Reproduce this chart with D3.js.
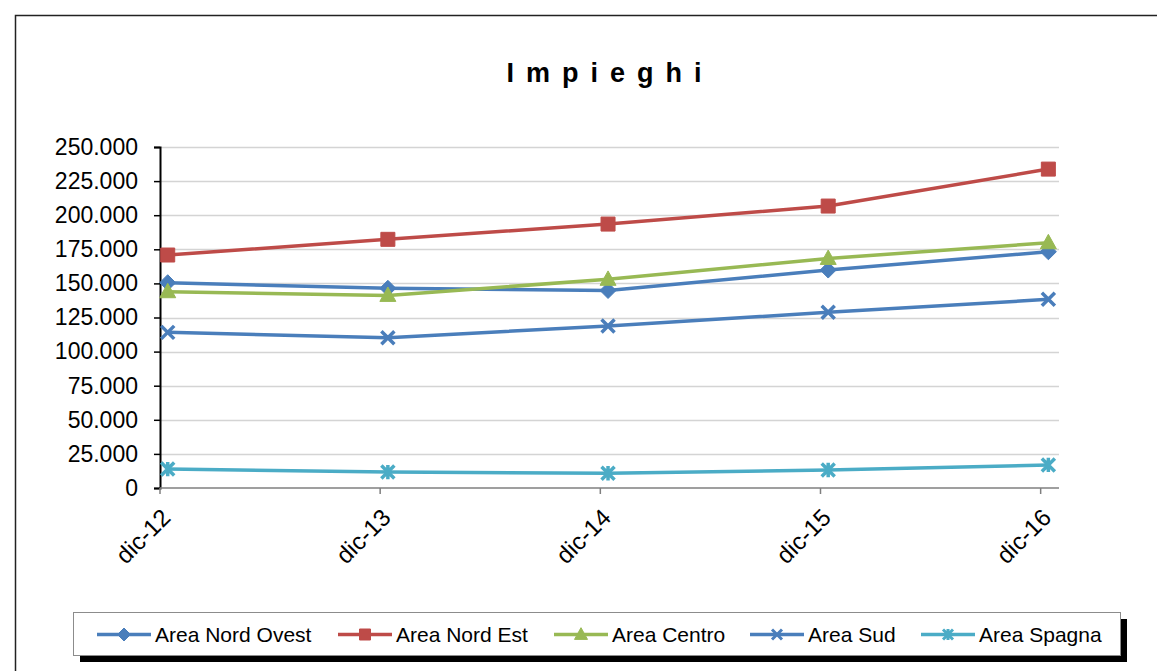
<!DOCTYPE html>
<html>
<head>
<meta charset="utf-8">
<script src="https://cdn.jsdelivr.net/npm/d3@7"></script>
<style>
  html, body { margin: 0; padding: 0; background: #fff; }
  svg { display: block; font-family: Arial, "Liberation Sans", sans-serif; }
</style>
</head>
<body>
<svg id="chart" width="1157" height="671"></svg>
<script>
// Period labels and the month each value refers to
const categories = ["dic-12", "dic-13", "dic-14", "dic-15", "dic-16"];
const periods = ["2012-12", "2013-12", "2014-12", "2015-12", "2016-12"];

// Impieghi by area
const nordOvest = [150500, 146400, 144800, 159800, 173200];
const nordEst   = [170800, 182300, 193500, 206700, 233800];
const centro    = [143900, 141200, 153000, 168300, 179800];
const sud       = [114100, 110200, 118700, 128800, 138300];
const spagna    = [13900, 11700, 10800, 13200, 16900];

const seriesNames = ["Area Nord Ovest", "Area Nord Est", "Area Centro", "Area Sud", "Area Spagna"];
const yTicks = [0, 25000, 50000, 75000, 100000, 125000, 150000, 175000, 200000, 225000, 250000];

const colors = ["#4A7EBB", "#BE4B48", "#98B954", "#4A7EBB", "#4BACC6"];

// Marker shapes drawn as custom d3 symbols (size = half width)
const mkDiamond = { draw(c, r) { c.moveTo(0, -r); c.lineTo(r, 0); c.lineTo(0, r); c.lineTo(-r, 0); c.closePath(); } };
const mkSquare  = { draw(c, r) { c.rect(-r, -r, 2 * r, 2 * r); } };
const mkTri     = { draw(c, r) { c.moveTo(0, -r * 1.05); c.lineTo(r, r * 0.75); c.lineTo(-r, r * 0.75); c.closePath(); } };
const mkX       = { draw(c, r) { c.moveTo(-r, -r); c.lineTo(r, r); c.moveTo(r, -r); c.lineTo(-r, r); } };
const mkStar    = { draw(c, r) { c.moveTo(-r, -r); c.lineTo(r, r); c.moveTo(r, -r); c.lineTo(-r, r); c.moveTo(0, -r * 1.1); c.lineTo(0, r * 1.1); } };
const markers = [
  { type: mkDiamond, filled: true, r: 8 },
  { type: mkSquare, filled: true, r: 7 },
  { type: mkTri, filled: true, r: 8 },
  { type: mkX, filled: false, r: 6.5 },
  { type: mkStar, filled: false, r: 6.5 }
];

const series = [nordOvest, nordEst, centro, sud, spagna].map((vals, i) => ({
  name: seriesNames[i], color: colors[i], marker: markers[i],
  points: vals.map((v, j) => ({ period: periods[j], value: v }))
}));

const svg = d3.select("#chart");
const W = 1157, H = 671;
const plot = { left: 160, right: 1059, top: 147, bottom: 488 };

// Outer chart frame
svg.append("path")
  .attr("d", `M15.5,${H} V15.5 H${W}`)
  .attr("fill", "none").attr("stroke", "#222").attr("stroke-width", 1.5);

// Title
svg.append("text")
  .attr("x", 610).attr("y", 82)
  .attr("text-anchor", "middle")
  .attr("font-size", 27).attr("font-weight", "bold")
  .attr("letter-spacing", "12px")
  .text("Impieghi");

// Monthly date axis; each value sits inside its month, ticks on year boundaries
const parseMonth = d3.timeParse("%Y-%m");
const months = d3.timeMonth.range(parseMonth(periods[0]), d3.timeMonth.offset(parseMonth(periods[periods.length - 1]), 1));
const x = d3.scaleBand().domain(months.map(m => +m)).range([plot.left, plot.right]).padding(0);
const xMid = p => x(+parseMonth(p)) + x.bandwidth() * 0.42;
const xTick = p => x(+parseMonth(p));

const y = d3.scaleLinear().domain([0, 250000]).range([plot.bottom, plot.top]);

const it = d3.formatLocale({ decimal: ",", thousands: ".", grouping: [3], currency: ["€", ""] });
const fmt = it.format(",.0f");

// Gridlines
svg.append("g").selectAll("line").data(yTicks.filter(t => t > 0)).join("line")
  .attr("x1", plot.left).attr("x2", plot.right)
  .attr("y1", d => Math.round(y(d)) + 0.5).attr("y2", d => Math.round(y(d)) + 0.5)
  .attr("stroke", "#d4d4d4").attr("stroke-width", 1.3);

// Y axis
const yAxis = svg.append("g")
  .attr("transform", `translate(${plot.left},0)`)
  .call(d3.axisLeft(y).tickValues(yTicks).tickFormat(fmt).tickSize(6).tickPadding(16));
yAxis.select(".domain").attr("stroke", "#000").attr("stroke-width", 2);
yAxis.selectAll(".tick line").attr("stroke", "#000").attr("stroke-width", 1.5);
yAxis.selectAll(".tick text").attr("font-size", 23).attr("fill", "#000")
  .attr("font-family", "Arial, 'Liberation Sans', sans-serif");

// X axis
const xg = svg.append("g").attr("transform", `translate(0,${plot.bottom})`);
xg.append("line").attr("x1", plot.left).attr("x2", plot.right)
  .attr("stroke", "#7f7f7f").attr("stroke-width", 1.5);
xg.selectAll("line.tick").data(periods).join("line").attr("class", "tick")
  .attr("x1", d => xTick(d)).attr("x2", d => xTick(d)).attr("y1", 0).attr("y2", 6)
  .attr("stroke", "#7f7f7f").attr("stroke-width", 1.5);
xg.selectAll("text").data(periods).join("text")
  .attr("transform", d => `translate(${xTick(d) + 12},${31}) rotate(-45)`)
  .attr("text-anchor", "end")
  .attr("font-size", 24).attr("fill", "#000")
  .text((d, i) => categories[i]);

// Lines and markers
const line = d3.line().x(d => xMid(d.period)).y(d => y(d.value));
const sg = svg.append("g").selectAll("g").data(series).join("g");
sg.append("path")
  .attr("d", d => line(d.points))
  .attr("fill", "none").attr("stroke", d => d.color).attr("stroke-width", 3.5)
  .attr("stroke-linejoin", "round");
sg.each(function (s) {
  d3.select(this).selectAll("path.mk").data(s.points).join("path").attr("class", "mk")
    .attr("transform", d => `translate(${xMid(d.period)},${y(d.value)})`)
    .attr("d", d3.symbol().type(s.marker.type).size(s.marker.r))
    .attr("fill", s.marker.filled ? s.color : "none")
    .attr("stroke", s.color)
    .attr("stroke-width", s.marker.filled ? 1 : 3.5);
});

// Legend with drop shadow
const lg = svg.append("g");
const box = { x: 73, y: 612, w: 1047, h: 43 };
lg.append("rect").attr("x", box.x + 7).attr("y", box.y + 7).attr("width", box.w).attr("height", box.h).attr("fill", "#000");
lg.append("rect").attr("x", box.x + 0.5).attr("y", box.y + 0.5).attr("width", box.w).attr("height", box.h)
  .attr("fill", "#fff").attr("stroke", "#8c8c8c").attr("stroke-width", 1);
const legendX = [97, 338, 554, 750, 921];
const ly = box.y + box.h / 2 + 1;
series.forEach((s, i) => {
  const g = lg.append("g").attr("transform", `translate(${legendX[i]},${ly})`);
  g.append("line").attr("x1", 0).attr("x2", 54).attr("stroke", s.color).attr("stroke-width", 3.5);
  g.append("path").attr("transform", "translate(27,0)")
    .attr("d", d3.symbol().type(s.marker.type).size(s.marker.r - 1.5))
    .attr("fill", s.marker.filled ? s.color : "none")
    .attr("stroke", s.color).attr("stroke-width", s.marker.filled ? 1 : 3);
  g.append("text").attr("x", 58).attr("y", 7.5)
    .attr("font-size", 21).attr("fill", "#000").text(s.name);
});
</script>
</body>
</html>
